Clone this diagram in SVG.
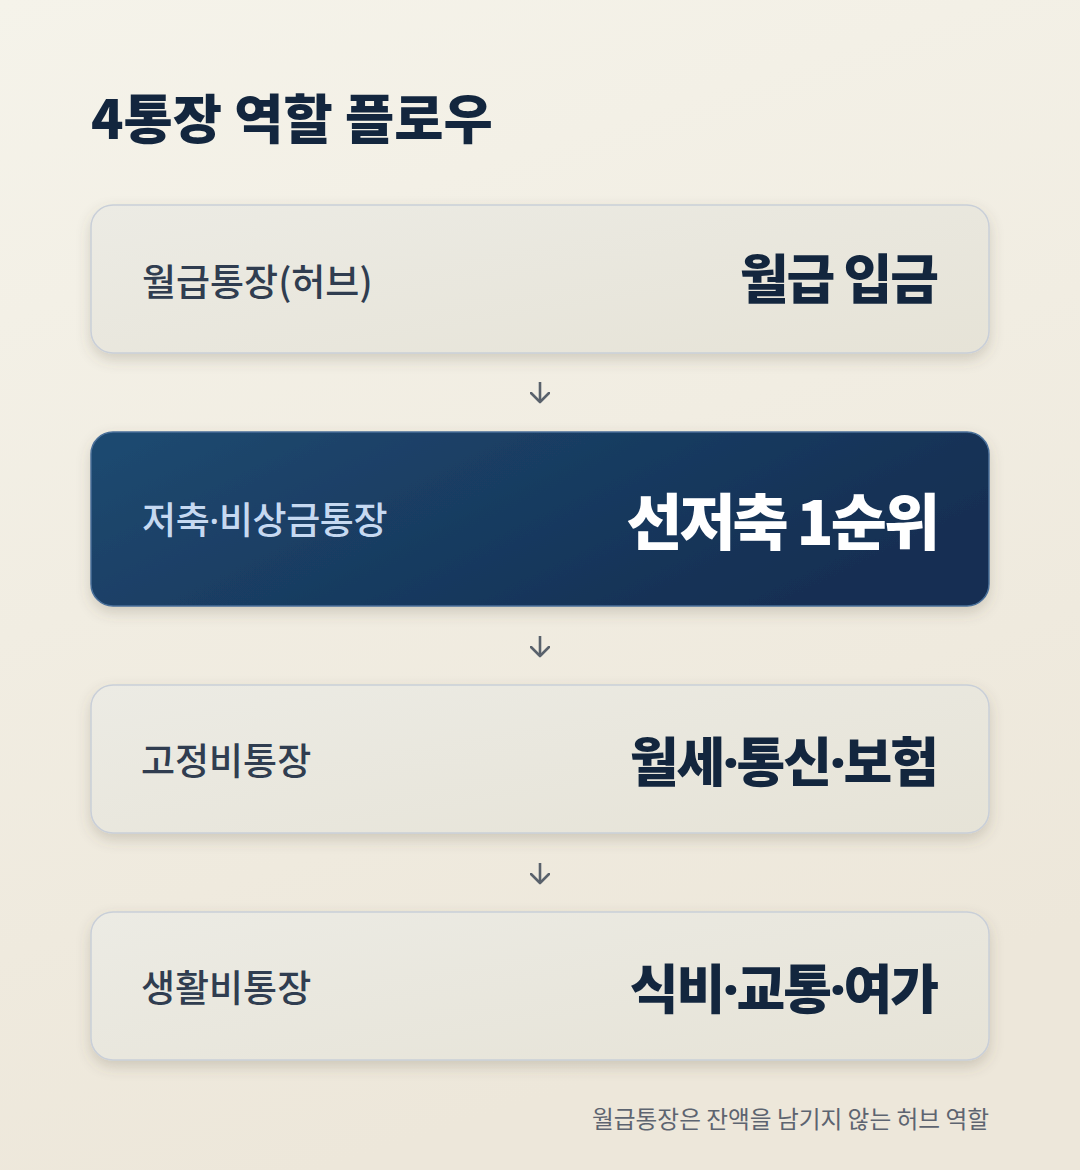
<svg xmlns="http://www.w3.org/2000/svg" width="1080" height="1170" viewBox="0 0 1080 1170">
<defs>
<linearGradient id="bg" x1="0" y1="0" x2="0.3" y2="1">
<stop offset="0" stop-color="#f5f3ea"/>
<stop offset="1" stop-color="#ede7da"/>
</linearGradient>
<linearGradient id="light" x1="0" y1="0" x2="1" y2="1">
<stop offset="0" stop-color="#ecebe4"/>
<stop offset="1" stop-color="#e6e3d7"/>
</linearGradient>
<linearGradient id="dark" x1="0" y1="0" x2="1" y2="0.4">
<stop offset="0" stop-color="#1f4a71"/>
<stop offset="1" stop-color="#132f53"/>
</linearGradient>
<filter id="sh" x="-10%" y="-20%" width="120%" height="150%">
<feDropShadow dx="0" dy="6" stdDeviation="7" flood-color="#5a5240" flood-opacity="0.22"/>
</filter>
<marker id="ah" viewBox="0 0 12 20" refX="10" refY="10" markerWidth="12" markerHeight="20" markerUnits="userSpaceOnUse" orient="auto">
<path d="M1,1 L10,10 L1,19" fill="none" stroke="#59616b" stroke-width="2.6" stroke-linecap="round" stroke-linejoin="round"/>
</marker>
</defs>
<style>
.t{font-family:"Noto Sans CJK KR","Noto Sans",sans-serif}
.d{font-family:"Noto Sans",sans-serif}
.title{font-size:53.5px;font-weight:900;fill:#13263e}
.lbl{font-size:37px;font-weight:500;fill:#303d50}
.val{font-size:53px;font-weight:900;fill:#13263e;text-anchor:end}
.card{fill:url(#light);stroke:#c9cfd8;stroke-width:1.5}
.conn{stroke:#59616b;stroke-width:2.6;fill:none}
.foot{font-size:23.7px;font-weight:400;fill:#5d6470;text-anchor:end}
</style>
<rect width="1080" height="1170" fill="url(#bg)"/>
<text class="t title" x="91" y="139">4통장 역할 플로우</text>

<g id="connectors">
<path class="conn" d="M540,382 L540,402" marker-end="url(#ah)"/>
<path class="conn" d="M540,636 L540,656" marker-end="url(#ah)"/>
<path class="conn" d="M540,863 L540,883" marker-end="url(#ah)"/>
</g>

<g id="node1">
<rect class="card" x="91" y="205" width="898" height="148" rx="22" filter="url(#sh)"/>
<text class="t lbl" x="142" y="296">월급통장(허브)</text>
<text class="t val" x="937" y="299" letter-spacing="-2">월급 입금</text>
</g>

<g id="node2">
<rect x="91" y="432" width="898" height="174" rx="22" fill="url(#dark)" stroke="#4a6f99" stroke-width="1.5" filter="url(#sh)"/>
<text class="t lbl" x="142" y="534" style="fill:#c6d9f1" letter-spacing="-0.4">저축<tspan class="d">·</tspan>비상금통장</text>
<text class="t val" x="937" y="545" style="fill:#ffffff;font-size:61px" letter-spacing="-3">선저축 1순위</text>
</g>

<g id="node3">
<rect class="card" x="91" y="685" width="898" height="148" rx="22" filter="url(#sh)"/>
<text class="t lbl" x="141" y="775">고정비통장</text>
<text class="t val" x="937" y="782" letter-spacing="-2">월세<tspan class="d">·</tspan>통신<tspan class="d">·</tspan>보험</text>
</g>

<g id="node4">
<rect class="card" x="91" y="912" width="898" height="148" rx="22" filter="url(#sh)"/>
<text class="t lbl" x="141" y="1002">생활비통장</text>
<text class="t val" x="937" y="1009" letter-spacing="-2">식비<tspan class="d">·</tspan>교통<tspan class="d">·</tspan>여가</text>
</g>

<text class="t foot" x="989" y="1128">월급통장은 잔액을 남기지 않는 허브 역할</text>
</svg>
